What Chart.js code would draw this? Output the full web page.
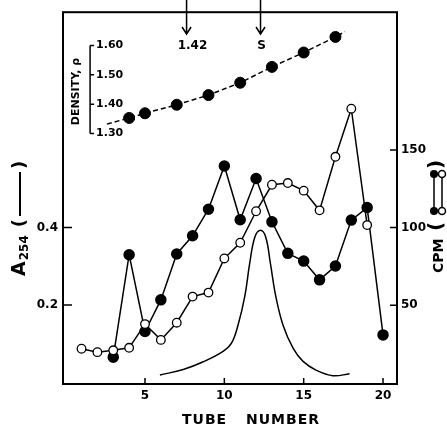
<!DOCTYPE html>
<html>
<head>
<meta charset="utf-8">
<script src="https://cdn.jsdelivr.net/npm/chart.js@4.4.0/dist/chart.umd.min.js"></script>
<style>
  html, body { margin: 0; padding: 0; background: #fff; }
</style>
</head>
<body>
<canvas id="chart" width="447" height="429"></canvas>
<script>
// CPM, open circles (tubes 1-19)
const tubesOpen = [1, 2, 3, 4, 5, 6, 7, 8, 9, 10, 11, 12, 13, 14, 15, 16, 17, 18, 19];
const cpmOpen = [21.9, 19.7, 20.9, 22.5, 37.8, 27.6, 38.7, 55.5, 58.1, 80.1, 90.2, 110.5, 127.6, 128.7, 123.8, 111.1, 145.6, 176.6, 101.6];

// CPM, filled circles (tubes 3-20)
const tubesFilled = [3, 4, 5, 6, 7, 8, 9, 10, 11, 12, 13, 14, 15, 16, 17, 18, 19, 20];
const cpmFilled = [16.5, 82.5, 33, 53.4, 83, 94.7, 111.8, 139.7, 105, 131.6, 103.7, 83.4, 78.4, 66.3, 75.2, 104.8, 112.9, 30.8];

// A254 trace
const a254Tubes = [5.94, 7.41, 8.67, 9.92, 10.45, 10.86, 11.29, 11.6, 11.92, 12.28, 12.61, 12.9, 13.24, 13.7, 14.33, 14.96, 15.8, 16.84, 17.89];
const a254 = [0.020, 0.034, 0.054, 0.081, 0.102, 0.148, 0.223, 0.308, 0.375, 0.393, 0.375, 0.308, 0.223, 0.148, 0.089, 0.055, 0.032, 0.018, 0.023];

// density (g/ml)
const densityTubes = [4, 5, 7, 9, 11, 13, 15, 17];
const density = [1.353, 1.369, 1.398, 1.431, 1.473, 1.527, 1.576, 1.629];
const densityLineEnds = [[2.6, 1.332], [17.6, 1.647]];

// axes
const tubeTicks = [5, 10, 15, 20];
const a254Ticks = [0.2, 0.4];
const cpmTicks = [50, 100, 150];
const densityTicks = [1.30, 1.40, 1.50, 1.60];
const densityAxisTube = 1.54;

// arrows at top
const markers = [
  { label: '1.42', tube: 7.62, textTube: 7.99 },
  { label: 'S', tube: 12.28, textTube: 12.34 }
];

const pts = (xs, ys) => xs.map((x, i) => ({ x: x, y: ys[i] }));

const densityLine = [{ x: densityLineEnds[0][0], y: densityLineEnds[0][1] }]
  .concat(pts(densityTubes, density))
  .concat([{ x: densityLineEnds[1][0], y: densityLineEnds[1][1] }]);

const FONT = 'DejaVu Sans';
Chart.defaults.font.family = FONT;
Chart.defaults.font.weight = 'bold';
Chart.defaults.font.size = 12;
Chart.defaults.color = '#000';

function fixTicks(list) {
  return function (scale) {
    scale.ticks = list.map(v => ({ value: v }));
  };
}

const paper = {
  id: 'paper',
  afterDraw(chart) {
    const ctx = chart.ctx;
    const a = chart.chartArea;
    const x = chart.scales.x, yA = chart.scales.yA, yC = chart.scales.yC, yD = chart.scales.yD;
    ctx.save();
    ctx.strokeStyle = '#000';
    ctx.fillStyle = '#000';
    ctx.lineWidth = 2;
    ctx.strokeRect(a.left, a.top, a.right - a.left, a.bottom - a.top);

    // inward tick marks
    ctx.lineWidth = 1.5;
    ctx.beginPath();
    tubeTicks.forEach(t => {
      const px = x.getPixelForValue(t);
      ctx.moveTo(px, a.bottom); ctx.lineTo(px, a.bottom - 6);
    });
    a254Ticks.forEach(t => {
      const py = yA.getPixelForValue(t);
      ctx.moveTo(a.left, py); ctx.lineTo(a.left + 9, py);
    });
    cpmTicks.forEach(t => {
      const py = yC.getPixelForValue(t);
      ctx.moveTo(a.right, py); ctx.lineTo(a.right - 7, py);
    });
    ctx.stroke();

    // density axis
    const dx = x.getPixelForValue(densityAxisTube);
    const dTop = yD.getPixelForValue(densityTicks[densityTicks.length - 1]);
    const dBot = yD.getPixelForValue(densityTicks[0]);
    ctx.beginPath();
    ctx.moveTo(dx, dTop); ctx.lineTo(dx, dBot);
    densityTicks.forEach(t => {
      const py = yD.getPixelForValue(t);
      ctx.moveTo(dx, py); ctx.lineTo(dx + 4, py);
    });
    ctx.stroke();
    ctx.font = 'bold 11px ' + FONT;
    ctx.textAlign = 'left';
    ctx.textBaseline = 'middle';
    densityTicks.forEach(t => {
      ctx.fillText(t.toFixed(2), dx + 6, yD.getPixelForValue(t));
    });

    // DENSITY, rho
    ctx.save();
    ctx.translate(dx - 14, (dTop + dBot) / 2 + 2);
    ctx.rotate(-Math.PI / 2);
    ctx.textAlign = 'center';
    ctx.font = 'bold 11px ' + FONT;
    ctx.fillText('DENSITY, ρ', 0, 0);
    ctx.restore();

    // arrows
    ctx.lineWidth = 1.5;
    markers.forEach(m => {
      const px = x.getPixelForValue(m.tube);
      ctx.beginPath();
      ctx.moveTo(px, 0); ctx.lineTo(px, 34);
      ctx.moveTo(px - 4.5, 27); ctx.lineTo(px, 34); ctx.lineTo(px + 4.5, 27);
      ctx.stroke();
      ctx.font = 'bold 12px ' + FONT;
      ctx.textAlign = 'center';
      ctx.fillText(m.label, x.getPixelForValue(m.textTube), 46);
    });

    // x title
    ctx.font = 'bold 14px ' + FONT;
    ctx.textAlign = 'left';
    ctx.textBaseline = 'alphabetic';
    ctx.letterSpacing = '1px';
    ctx.fillText('TUBE', 182, 424);
    ctx.fillText('NUMBER', 246, 424);
    ctx.letterSpacing = '0px';

    // A254 label (rotated)
    ctx.save();
    ctx.translate(20, 276);
    ctx.rotate(-Math.PI / 2);
    ctx.textBaseline = 'middle';
    ctx.textAlign = 'left';
    ctx.font = 'bold 19px ' + FONT;
    ctx.fillText('A', 0, 0);
    let w = ctx.measureText('A').width;
    ctx.font = 'bold 12px ' + FONT;
    ctx.fillText('254', w + 1, 5);
    w += ctx.measureText('254').width + 9;
    ctx.font = 'bold 18px ' + FONT;
    ctx.fillText('(', w, 0);
    w += ctx.measureText('(').width + 3;
    ctx.lineWidth = 2;
    ctx.beginPath();
    ctx.moveTo(w, 0); ctx.lineTo(w + 44, 0);
    ctx.stroke();
    w += 47;
    ctx.fillText(')', w, 0);
    ctx.restore();

    // CPM label (rotated) with symbols
    ctx.save();
    ctx.translate(439, 273);
    ctx.rotate(-Math.PI / 2);
    ctx.textBaseline = 'middle';
    ctx.textAlign = 'left';
    ctx.font = 'bold 14px ' + FONT;
    ctx.fillText('CPM', 0, 0);
    ctx.font = 'bold 20px ' + FONT;
    ctx.fillText('(', 42, -2);
    ctx.fillText(')', 104, -2);
    ctx.lineWidth = 1.5;
    ctx.beginPath();
    ctx.moveTo(62, -5); ctx.lineTo(99, -5);
    ctx.moveTo(62, 3); ctx.lineTo(99, 3);
    ctx.stroke();
    [62, 99].forEach(t => {
      ctx.beginPath(); ctx.arc(t, -5, 4, 0, Math.PI * 2); ctx.fill();
      ctx.beginPath(); ctx.arc(t, 3, 3.5, 0, Math.PI * 2);
      ctx.fillStyle = '#fff'; ctx.fill(); ctx.stroke(); ctx.fillStyle = '#000';
    });
    ctx.restore();

    ctx.restore();
  }
};

new Chart(document.getElementById('chart').getContext('2d'), {
  type: 'scatter',
  data: {
    datasets: [
      {
        label: 'CPM open',
        data: pts(tubesOpen, cpmOpen),
        yAxisID: 'yC',
        showLine: true,
        borderColor: '#000',
        borderWidth: 1.5,
        pointRadius: 4.3,
        pointBorderWidth: 1.3,
        pointBackgroundColor: '#fff',
        pointBorderColor: '#000',
        order: 0
      },
      {
        label: 'CPM filled',
        data: pts(tubesFilled, cpmFilled),
        yAxisID: 'yC',
        showLine: true,
        borderColor: '#000',
        borderWidth: 1.5,
        pointRadius: 5,
        pointBackgroundColor: '#000',
        pointBorderColor: '#000',
        order: 1
      },
      {
        label: 'A254',
        data: pts(a254Tubes, a254),
        yAxisID: 'yA',
        showLine: true,
        borderColor: '#000',
        borderWidth: 1.5,
        pointRadius: 0,
        tension: 0.4,
        order: 2
      },
      {
        label: 'density line',
        data: densityLine,
        yAxisID: 'yD',
        showLine: true,
        borderColor: '#000',
        borderWidth: 1.5,
        borderDash: [5, 3],
        pointRadius: 0,
        order: 4
      },
      {
        label: 'density',
        data: pts(densityTubes, density),
        yAxisID: 'yD',
        showLine: false,
        pointRadius: 5.5,
        pointBackgroundColor: '#000',
        pointBorderColor: '#000',
        order: 3
      }
    ]
  },
  options: {
    responsive: false,
    devicePixelRatio: 1,
    animation: false,
    layout: { padding: { top: 4, left: 0, right: 0, bottom: 0 } },
    plugins: { legend: { display: false }, tooltip: { enabled: false } },
    scales: {
      x: {
        type: 'linear',
        min: -0.167,
        max: 20.88,
        afterBuildTicks: fixTicks(tubeTicks),
        afterFit: s => { s.height = 45; },
        grid: { drawOnChartArea: false, drawTicks: false },
        border: { display: false },
        ticks: { padding: 5, font: { size: 12, weight: 'bold' } }
      },
      yA: {
        type: 'linear',
        position: 'left',
        min: -0.0033,
        max: 0.955,
        afterBuildTicks: fixTicks(a254Ticks),
        afterFit: s => { s.width = 63; },
        grid: { drawOnChartArea: false, drawTicks: false },
        border: { display: false },
        ticks: { padding: 5, callback: v => v.toFixed(1), font: { size: 12, weight: 'bold' } }
      },
      yC: {
        type: 'linear',
        position: 'right',
        min: -0.82,
        max: 238.8,
        afterBuildTicks: fixTicks(cpmTicks),
        afterFit: s => { s.width = 50; },
        grid: { drawOnChartArea: false, drawTicks: false },
        border: { display: false },
        ticks: { padding: 4, font: { size: 12, weight: 'bold' } }
      },
      yD: {
        type: 'linear',
        display: false,
        min: 0.4467,
        max: 1.7133
      }
    }
  },
  plugins: [paper]
});
</script>
</body>
</html>
